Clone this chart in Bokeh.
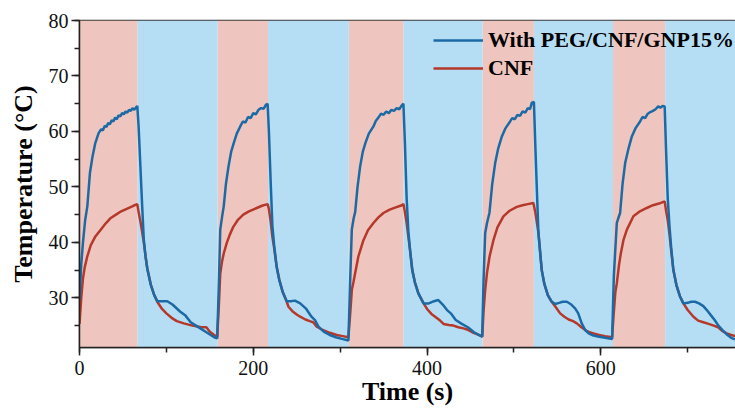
from bokeh.plotting import figure
from bokeh.models import Range1d, SingleIntervalTicker, Legend, LegendItem, ColumnDataSource
from bokeh.embed import file_html
from bokeh.resources import INLINE

# ---- data ----
heat_start = [0, 159, 310, 464, 614]
heat_end = [67, 217, 373, 523, 674]
cool_start = [67, 217, 373, 523, 674]
cool_end = [159, 310, 464, 614, 755]

t_peg = [
    0, 2, 4, 6.5, 9, 12, 15, 18, 22, 25, 27, 29, 31, 33, 35, 37, 39, 41, 43, 45, 47, 49, 51, 53, 55, 57, 59, 61, 63, 65, 66.5,
    68, 70, 72, 74, 76, 78, 82, 86, 89.5, 95, 101, 107, 116, 122, 128, 134, 140, 146, 151, 155, 158.5,
    160.5, 162, 164, 166, 168.5, 171.5, 174.5, 177.5, 181, 185, 188, 191, 194, 197, 200, 203, 206, 209, 212, 214.5, 216.5,
    218, 220, 222, 224, 227, 230, 234, 238.5, 243, 248, 254, 261, 267, 271, 275, 281, 288, 295, 302, 309.5,
    311.5, 313.4, 315.5, 317.3, 320, 323, 326, 329, 333, 338.3, 341, 344, 347, 350, 353, 356, 359, 362, 365, 368, 370.5, 372.8,
    374.5, 376.5, 378.5, 380.5, 383, 386, 390, 396, 402, 408, 413, 418, 423, 428, 433, 440, 447, 454, 463.5,
    465, 466.9, 469, 471.8, 475, 478.4, 482, 486.1, 490, 495.6, 498, 501, 504, 507, 510, 513, 516, 518.5, 520.6, 523,
    524.5, 526.5, 528.2, 530, 532, 535, 539, 543, 547.4, 552, 556, 560.9, 566, 570.4, 574, 578, 582, 586, 591.5, 598, 605, 613,
    615, 618.4, 620, 622.2, 625, 628, 632, 635.7, 640, 645.2, 648, 651, 654, 657, 660, 663, 666, 669, 671, 673.5,
    675, 677, 679, 681, 683.5, 687, 691, 695, 700, 704, 708.5, 713, 718, 722, 727, 731, 735.3, 740, 745, 750, 754.5,
]
T_peg = [
    29.5, 36, 40, 44, 46.5, 52.5, 55.5, 57.8, 59.7, 60.4, 60.2, 61.0, 60.8, 61.5, 61.3, 62.0, 61.8, 62.5, 62.2, 62.9, 62.7, 63.3, 63.1, 63.6, 63.4, 63.9, 63.7, 64.2, 63.9, 64.3, 64.6,
    61, 54, 47, 40.5, 37.5, 35.3, 32.4, 30.5, 29.4, 29.4, 29.4, 28.8, 27.5, 26.8, 25.6, 25.0, 24.4, 23.8, 23.3, 22.9, 22.7,
    33, 42.3, 44.5, 46.5, 50.5, 53.7, 56.3, 57.9, 59.6, 60.9, 61.8, 61.6, 62.6, 62.4, 63.3, 63.1, 63.9, 64.2, 64.1, 64.8, 65.0,
    60, 51, 43, 39.5, 35.5, 33.2, 31, 29.4, 29.4, 29.5, 29.0, 28.0, 26.6, 26.0, 24.8, 23.9, 23.3, 22.9, 22.6, 22.3,
    33, 42.3, 44.3, 45.5, 50, 53.7, 56.3, 57.9, 59.6, 60.9, 61.9, 62.5, 63.2, 63.0, 63.6, 63.3, 63.9, 63.7, 64.2, 64.0, 64.6, 65.0,
    58, 48, 42, 38.5, 35, 32.8, 30.8, 29.0, 29.0, 29.4, 29.6, 28.8, 27.8, 27.1, 26.0, 25.3, 24.7, 23.8, 23.0,
    33, 41.7, 43.5, 45.3, 50.5, 54.3, 57, 59.1, 60.5, 61.8, 62.4, 62.2, 63.0, 62.8, 63.6, 63.4, 64.2, 64.0, 65.2, 65.3,
    58, 49, 41.7, 38.5, 35, 32.5, 30.5, 29.4, 28.9, 29.1, 29.3, 29.3, 28.8, 28.1, 27.2, 25.4, 24.2, 23.6, 23.2, 23.0, 22.8, 22.6,
    34, 43.5, 44.3, 45.3, 50.5, 54.3, 57, 59.1, 60.6, 61.8, 62.6, 62.4, 63.2, 63.5, 63.7, 64.0, 64.5, 64.3, 64.6, 64.5,
    57, 48, 43, 39, 35, 32.3, 30.3, 29.0, 29.1, 29.3, 29.3, 29.0, 28.5, 27.8, 26.8, 26.0, 25.0, 24.2, 23.4, 22.8, 22.5,
]

t_cnf = [
    0, 2, 4, 6, 9, 13, 18, 24, 30, 36, 42, 48, 55, 62, 66.5,
    68, 70, 72, 74, 76, 78, 82, 86, 89.5, 95, 100, 106, 112, 120, 130, 140, 146, 150, 155, 158.5,
    160.5, 162, 164, 166, 169.5, 173, 177, 182, 188.5, 195, 204, 210, 216.5,
    218, 220, 222, 224, 227, 230, 234, 238.5, 240.5, 245, 250, 254, 260, 265, 269, 273, 280, 288, 296, 303, 309.5,
    311.5, 313.5, 315.5, 317.3, 321, 326.8, 332, 338.3, 344, 349.8, 357, 364, 371, 372.8,
    374.5, 376.5, 378.5, 380.5, 383, 386, 390, 396, 400, 405, 409.3, 415, 419, 425, 430.4, 436, 442, 446, 452, 458, 463.5,
    465, 466.9, 469, 472, 476.4, 481, 487.9, 495, 503.3, 510, 516, 522.4,
    524.5, 526.5, 528.2, 530, 532, 535, 539, 543, 547.4, 553.2, 558, 563, 568, 572.4, 577, 582, 587, 591.5, 598, 605, 613,
    615, 616.7, 618.4, 621, 623, 626, 630, 637.5, 645, 652.9, 660, 667, 673.5,
    675, 677, 679, 681, 683.5, 687, 691, 695, 700, 706.6, 712, 718, 724, 730, 735, 740, 745, 750, 754.5,
]
T_cnf = [
    25.3, 30, 33.5, 35.5, 37.5, 39.5, 41, 42.2, 43.4, 44.4, 45.0, 45.6, 46.1, 46.6, 46.9,
    45.5, 43.8, 42, 40, 37.5, 35.3, 32.4, 30.5, 29.3, 28.0, 27.2, 26.4, 25.8, 25.4, 25.0, 24.7, 24.7, 23.9, 23.3, 23.0,
    29, 34.4, 36.5, 38.0, 39.9, 41.4, 42.8, 44.0, 45.0, 45.6, 46.2, 46.6, 46.9,
    46, 43.8, 41, 39, 35.5, 33.2, 31, 29.3, 28.4, 27.6, 27.0, 26.6, 26.1, 25.8, 25.6, 24.8, 24.2, 23.7, 23.3, 23.1, 22.9,
    27, 31.5, 33, 34.5, 37.5, 40.4, 42.2, 43.5, 44.5, 45.3, 45.9, 46.3, 46.7, 46.9,
    45.5, 43.5, 41, 38.5, 35, 32.8, 30.8, 29.0, 28.0, 27.1, 26.6, 25.9, 25.3, 25.1, 25.0, 24.7, 24.5, 24.3, 23.8, 23.4, 23.0,
    27.5, 31.4, 34.5, 37.5, 40.4, 42.7, 44.7, 45.7, 46.4, 46.7, 46.9, 47.1,
    45.5, 43.5, 41.7, 38.5, 35, 32.5, 30.5, 29.4, 28.5, 27.2, 26.6, 26.1, 25.8, 25.4, 24.8, 24.2, 23.8, 23.6, 23.3, 23.1, 22.9,
    27.5, 31, 32.6, 36, 38, 40.4, 42.3, 44.7, 45.6, 46.2, 46.7, 47.0, 47.4,
    45.8, 44, 41.5, 38.5, 35, 32.3, 30.3, 29.0, 27.8, 26.6, 25.9, 25.6, 25.3, 25.0, 24.7, 24.0, 23.6, 23.3, 23.1,
]

x_ticks_interval = 200
y_ticks_interval = 10
x_min, x_max = 0, 755
y_min, y_max = 21.05, 80

# ---- figure ----
SERIF = "Liberation Serif"
p = figure(width=735, height=408, output_backend="svg", toolbar_location=None,
           x_range=Range1d(x_min, x_max), y_range=Range1d(y_min, y_max),
           min_border_left=79, min_border_right=0, min_border_top=20, min_border_bottom=61)
p.background_fill_color = "white"
p.border_fill_color = "white"
p.outline_line_color = "#3a3a3a"
p.outline_line_width = 1.5
p.xgrid.visible = False
p.ygrid.visible = False

p.quad(left=heat_start, right=heat_end, bottom=y_min, top=y_max,
       fill_color="#EFC6BF", line_color=None)
p.quad(left=cool_start, right=cool_end, bottom=y_min, top=y_max,
       fill_color="#B5DEF5", line_color=None)

src_peg = ColumnDataSource(dict(t=t_peg, T=T_peg))
src_cnf = ColumnDataSource(dict(t=t_cnf, T=T_cnf))
r_cnf = p.line("t", "T", source=src_cnf, line_color="#B5392B", line_width=2.5)
r_peg = p.line("t", "T", source=src_peg, line_color="#1C6AA5", line_width=2.5)

legend = Legend(items=[LegendItem(label="With PEG/CNF/GNP15%", renderers=[r_peg]),
                       LegendItem(label="CNF", renderers=[r_cnf])],
                location=(354, 265))
legend.background_fill_alpha = 0
legend.border_line_alpha = 0
legend.padding = 0
legend.margin = 0
legend.spacing = 0
legend.glyph_width = 50
legend.glyph_height = 28
legend.label_height = 28
legend.label_standoff = 5
legend.label_text_font = SERIF
legend.label_text_font_style = "bold"
legend.label_text_font_size = "22px"
legend.label_text_color = "black"
p.add_layout(legend)

for ax in (p.xaxis[0], p.yaxis[0]):
    ax.axis_line_width = 1.5
    ax.axis_line_color = "#222222"
    ax.major_tick_line_width = 1.5
    ax.minor_tick_line_width = 1.5
    ax.major_tick_line_color = "#222222"
    ax.minor_tick_line_color = "#222222"
    ax.major_tick_in = 0
    ax.minor_tick_in = 0
    ax.major_tick_out = 8
    ax.minor_tick_out = 5
    ax.major_label_text_font = SERIF
    ax.major_label_text_font_size = "20px"
    ax.major_label_text_color = "#111111"
    ax.axis_label_text_font = SERIF
    ax.axis_label_text_font_style = "bold"
    ax.axis_label_text_font_size = "26px"
    ax.axis_label_text_color = "black"

p.xaxis[0].ticker = SingleIntervalTicker(interval=x_ticks_interval, num_minor_ticks=2)
p.yaxis[0].ticker = SingleIntervalTicker(interval=y_ticks_interval, num_minor_ticks=2)
p.xaxis[0].axis_label = "Time (s)"
p.yaxis[0].axis_label = "Temperature (°C)"
p.xaxis[0].major_label_standoff = 5
p.xaxis[0].axis_label_standoff = -1
p.yaxis[0].major_label_standoff = 3
p.yaxis[0].axis_label_standoff = 8

open("out.html", "w").write(file_html(p, INLINE))
